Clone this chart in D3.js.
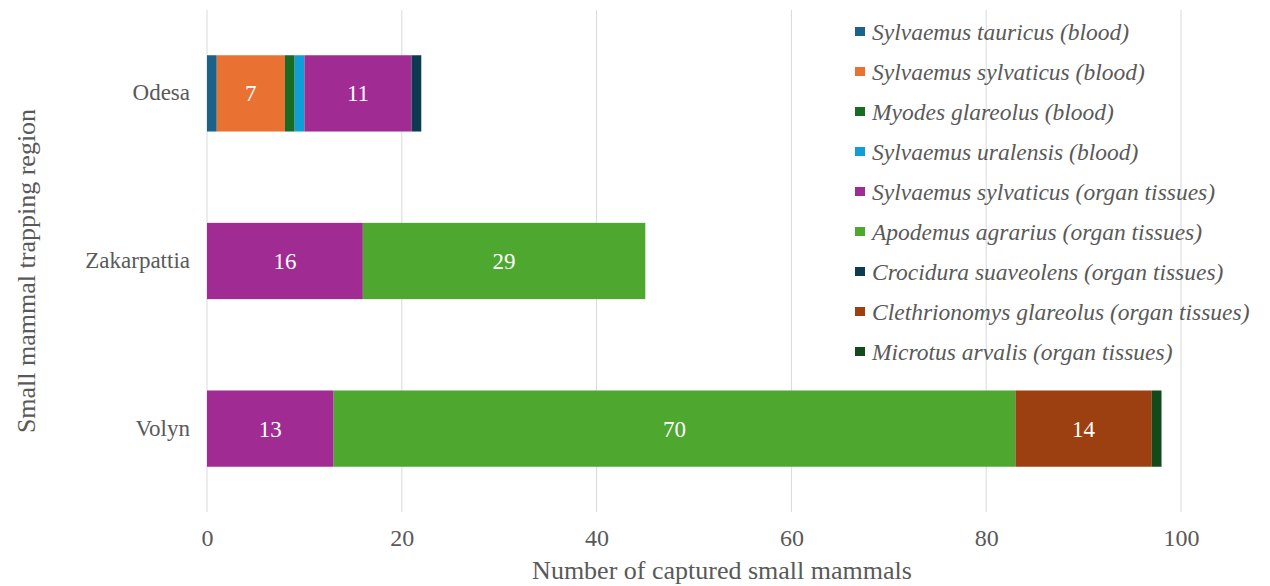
<!DOCTYPE html>
<meta charset="utf-8">
<script src="https://d3js.org/d3.v7.min.js"></script>
<body style="margin:0;background:#fff">
<div id="my_dataviz"></div>
<script>
  // regions, top to bottom
  var regions = ["Odesa", "Zakarpattia", "Volyn"];

  var seriesNames = [
    "Sylvaemus tauricus (blood)",
    "Sylvaemus sylvaticus (blood)",
    "Myodes glareolus (blood)",
    "Sylvaemus uralensis (blood)",
    "Sylvaemus sylvaticus (organ tissues)",
    "Apodemus agrarius (organ tissues)",
    "Crocidura suaveolens (organ tissues)",
    "Clethrionomys glareolus (organ tissues)",
    "Microtus arvalis (organ tissues)"
  ];

  // one value per region (Odesa, Zakarpattia, Volyn)
  var tauricusBlood   = [1, 0, 0];
  var sylvaticusBlood = [7, 0, 0];
  var myodesBlood     = [1, 0, 0];
  var uralensisBlood  = [1, 0, 0];
  var sylvaticusOrgan = [11, 16, 13];
  var agrariusOrgan   = [0, 29, 70];
  var crociduraOrgan  = [1, 0, 0];
  var clethrioOrgan   = [0, 0, 14];
  var microtusOrgan   = [0, 0, 1];

  var xTicks = [0, 20, 40, 60, 80, 100];

  var colors = ["#1b6288", "#e97132", "#196b24", "#0f9ed5", "#a02b93",
                "#4ea72e", "#0d3a50", "#9c4012", "#134a1c"];

  var seriesValues = [tauricusBlood, sylvaticusBlood, myodesBlood, uralensisBlood,
    sylvaticusOrgan, agrariusOrgan, crociduraOrgan, clethrioOrgan, microtusOrgan];

  // build table for d3.stack
  var table = regions.map(function (r, i) {
    var row = { region: r };
    seriesNames.forEach(function (s, j) { row[s] = seriesValues[j][i]; });
    return row;
  });

  var FONT = "'Liberation Serif', 'Times New Roman', serif";
  var GREY = "#595959";

  var W = 1270, H = 586;
  var margin = { top: 10, right: 90, bottom: 74, left: 207 };
  var height = H - margin.top - margin.bottom;

  var svg = d3.select("#my_dataviz")
    .append("svg")
    .attr("width", W)
    .attr("height", H)
    .style("font-family", FONT);

  var g = svg.append("g")
    .attr("transform", "translate(" + margin.left + "," + margin.top + ")");

  var x = d3.scaleLinear().domain([0, 100]).range([0, 974]);
  var y = d3.scaleBand().domain(regions).range([0, height]).paddingInner(0.545).paddingOuter(0.27);

  // gridlines
  g.selectAll("line.grid")
    .data(xTicks)
    .enter()
    .append("line")
    .attr("class", "grid")
    .attr("x1", function (d) { return x(d); })
    .attr("x2", function (d) { return x(d); })
    .attr("y1", 0)
    .attr("y2", height)
    .attr("stroke", "#d9d9d9")
    .attr("stroke-width", 1);

  // stacked bars
  var stack = d3.stack().keys(seriesNames);
  var layers = stack(table);

  var layer = g.selectAll("g.layer")
    .data(layers)
    .enter()
    .append("g")
    .attr("class", "layer")
    .attr("fill", function (d, i) { return colors[i]; });

  layer.selectAll("rect")
    .data(function (d) { return d; })
    .enter()
    .append("rect")
    .attr("x", function (d) { return x(d[0]); })
    .attr("y", function (d) { return y(d.data.region); })
    .attr("width", function (d) { return x(d[1]) - x(d[0]); })
    .attr("height", y.bandwidth());

  // value labels (only on wider segments)
  layer.selectAll("text")
    .data(function (d) { return d.filter(function (p) { return p[1] - p[0] > 1; }); })
    .enter()
    .append("text")
    .text(function (d) { return d[1] - d[0]; })
    .attr("x", function (d) { return (x(d[0]) + x(d[1])) / 2; })
    .attr("y", function (d) { return y(d.data.region) + y.bandwidth() / 2 + 8; })
    .attr("text-anchor", "middle")
    .style("font-family", FONT)
    .style("font-size", "23px")
    .attr("fill", "white");

  // x axis labels
  var xAxis = g.append("g")
    .attr("transform", "translate(0," + height + ")")
    .call(d3.axisBottom(x).tickValues(xTicks).tickSize(0).tickPadding(17));
  xAxis.select(".domain").remove();
  xAxis.selectAll("text")
    .style("font-family", FONT)
    .style("font-size", "24px")
    .attr("fill", GREY);

  // y axis labels
  var yAxis = g.append("g")
    .call(d3.axisLeft(y).tickSize(0).tickPadding(17));
  yAxis.select(".domain").remove();
  yAxis.selectAll("text")
    .attr("dy", "0.3em")
    .style("font-family", FONT)
    .style("font-size", "23px")
    .attr("fill", GREY);

  // axis titles
  svg.append("text")
    .text("Number of captured small mammals")
    .attr("x", 722)
    .attr("y", 579)
    .attr("text-anchor", "middle")
    .style("font-family", FONT)
    .style("font-size", "26px")
    .attr("fill", GREY);

  svg.append("text")
    .text("Small mammal trapping region")
    .attr("transform", "translate(35,271) rotate(-90)")
    .attr("text-anchor", "middle")
    .style("font-family", FONT)
    .style("font-size", "26px")
    .attr("fill", GREY);

  // legend
  var legend = svg.selectAll("g.legend")
    .data(seriesNames)
    .enter()
    .append("g")
    .attr("class", "legend")
    .attr("transform", function (d, i) { return "translate(855," + (32 + i * 40) + ")"; });

  legend.append("rect")
    .attr("x", 0)
    .attr("y", -5)
    .attr("width", 10)
    .attr("height", 9)
    .attr("fill", function (d, i) { return colors[i]; });

  legend.append("text")
    .text(function (d) { return d; })
    .attr("x", 17)
    .attr("y", 8)
    .style("font-family", FONT)
    .style("font-size", "23.5px")
    .style("font-style", "italic")
    .attr("fill", GREY);
</script>
</body>
